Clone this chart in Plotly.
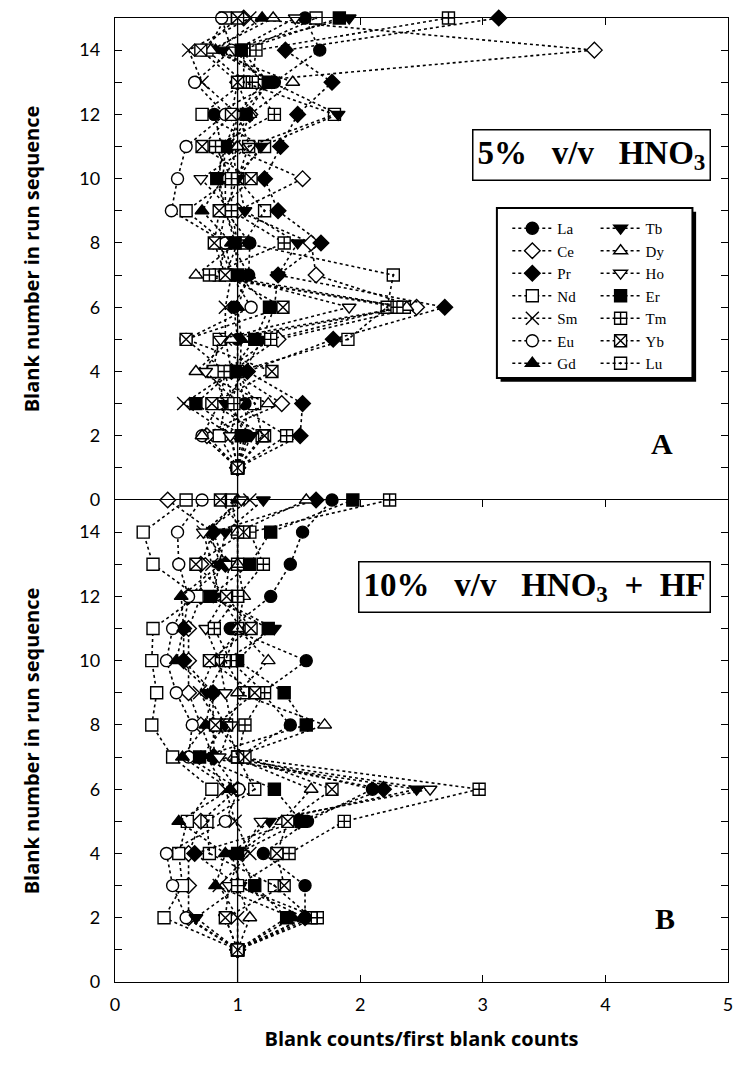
import plotly.graph_objects as go
from plotly.subplots import make_subplots

# Blank number in the run sequence (y values for every series)
blank_number = list(range(1, 16))

# ---- Panel A: 5% v/v HNO3 (blank counts / first blank counts, blanks 1..15)
a_La = [1.00, 1.08, 1.06, 1.00, 1.00, 0.97, 1.09, 1.10, 0.90, 0.85, 0.87, 0.81, 1.30, 1.67, 1.55]
a_Ce = [1.00, 0.75, 1.36, 0.95, 1.33, 2.46, 1.64, 1.60, 1.00, 1.53, 0.93, 1.10, 1.00, 3.91, 1.05]
a_Pr = [1.00, 1.51, 1.53, 1.08, 1.78, 2.69, 1.33, 1.68, 1.33, 1.22, 1.35, 1.49, 1.77, 1.39, 3.13]
a_Nd = [1.00, 0.85, 0.90, 0.80, 0.85, 2.36, 0.85, 0.90, 0.58, 0.95, 1.22, 0.71, 1.05, 0.75, 0.90]
a_Sm = [1.00, 0.95, 0.56, 0.95, 0.90, 0.90, 0.95, 0.85, 0.90, 1.00, 0.95, 1.00, 0.71, 0.60, 1.10]
a_Eu = [1.00, 0.71, 0.85, 0.90, 0.58, 1.11, 0.95, 0.90, 0.46, 0.51, 0.58, 0.90, 0.65, 0.95, 0.87]
a_Gd = [1.00, 1.06, 0.95, 1.02, 1.03, 1.00, 1.09, 0.95, 0.71, 0.88, 0.90, 1.00, 1.28, 0.82, 1.20]
a_Tb = [1.00, 1.11, 0.90, 1.05, 1.20, 1.30, 1.33, 1.49, 1.06, 1.00, 1.19, 1.82, 1.28, 0.88, 1.91]
a_Dy = [1.00, 0.71, 1.25, 0.66, 0.95, 2.38, 0.66, 1.00, 0.90, 0.90, 1.00, 1.10, 1.45, 0.78, 1.29]
a_Ho = [1.00, 0.94, 1.00, 0.74, 0.86, 1.91, 0.90, 1.00, 0.95, 0.70, 1.10, 1.00, 1.20, 0.98, 1.47]
a_Er = [1.00, 1.03, 0.66, 0.95, 1.14, 1.26, 1.00, 0.98, 0.90, 0.83, 0.90, 1.07, 1.25, 1.03, 1.83]
a_Tm = [1.00, 1.40, 0.97, 0.89, 1.27, 2.30, 0.77, 1.38, 0.95, 0.95, 0.82, 1.30, 1.12, 1.15, 2.72]
a_Yb = [1.00, 1.22, 0.79, 1.28, 0.58, 1.37, 0.90, 0.81, 0.85, 1.11, 0.71, 0.95, 1.00, 0.70, 1.00]
a_Lu = [1.00, 1.20, 1.14, 1.00, 1.90, 2.22, 2.27, 1.05, 1.22, 1.00, 1.09, 1.79, 1.05, 1.05, 1.64]

# ---- Panel B: 10% v/v HNO3 + HF
b_La = [1.00, 1.55, 1.55, 1.21, 1.57, 2.10, 1.00, 1.43, 1.20, 1.56, 0.94, 1.27, 1.43, 1.53, 1.77]
b_Ce = [1.00, 0.60, 0.60, 0.60, 0.70, 1.00, 0.80, 0.70, 0.60, 0.60, 0.60, 0.70, 0.70, 0.80, 0.43]
b_Pr = [1.00, 1.55, 1.00, 0.65, 1.50, 2.19, 0.81, 0.80, 0.80, 0.56, 0.56, 0.60, 0.90, 0.80, 1.64]
b_Nd = [1.00, 0.40, 0.55, 0.52, 0.59, 0.79, 0.47, 0.30, 0.34, 0.30, 0.31, 0.67, 0.31, 0.23, 0.58]
b_Sm = [1.00, 1.00, 0.85, 1.10, 0.98, 0.90, 0.75, 0.85, 0.69, 0.80, 1.03, 0.85, 0.79, 0.72, 1.10]
b_Eu = [1.00, 0.58, 0.47, 0.42, 0.90, 1.01, 0.60, 0.63, 0.50, 0.42, 0.47, 0.60, 0.52, 0.51, 0.71]
b_Gd = [1.00, 1.45, 0.82, 0.90, 0.52, 0.94, 0.55, 0.74, 0.79, 0.50, 0.56, 0.54, 0.86, 0.77, 1.00]
b_Tb = [1.00, 0.66, 1.02, 0.95, 1.26, 2.46, 0.70, 0.90, 0.75, 0.90, 1.30, 0.80, 0.85, 0.90, 1.21]
b_Dy = [1.00, 1.10, 1.00, 1.00, 1.36, 1.60, 0.97, 1.71, 1.00, 1.25, 1.00, 1.05, 1.00, 1.00, 1.56]
b_Ho = [1.00, 0.90, 0.93, 1.03, 1.19, 2.57, 0.85, 0.95, 0.90, 0.85, 0.74, 0.90, 0.93, 0.72, 1.03]
b_Er = [1.00, 1.40, 1.14, 1.00, 1.52, 1.30, 0.69, 1.56, 1.38, 1.00, 1.25, 0.78, 1.10, 1.27, 1.94]
b_Tm = [1.00, 1.65, 1.00, 1.42, 1.87, 2.97, 1.00, 1.06, 1.22, 0.94, 0.81, 1.00, 1.21, 1.10, 2.24]
b_Yb = [1.00, 0.90, 1.38, 1.32, 1.41, 1.77, 1.06, 0.82, 1.14, 0.77, 1.11, 0.91, 0.66, 1.05, 0.86]
b_Lu = [1.00, 1.60, 1.30, 0.77, 0.75, 1.14, 1.00, 0.91, 1.05, 0.90, 1.00, 1.00, 1.00, 1.00, 0.95]

elements = ["La", "Ce", "Pr", "Nd", "Sm", "Eu", "Gd", "Tb", "Dy", "Ho", "Er", "Tm", "Yb", "Lu"]
panel_a = [a_La, a_Ce, a_Pr, a_Nd, a_Sm, a_Eu, a_Gd, a_Tb, a_Dy, a_Ho, a_Er, a_Tm, a_Yb, a_Lu]
panel_b = [b_La, b_Ce, b_Pr, b_Nd, b_Sm, b_Eu, b_Gd, b_Tb, b_Dy, b_Ho, b_Er, b_Tm, b_Yb, b_Lu]

y_ticks = list(range(0, 15, 2))
x_ticks = list(range(0, 6))

# marker style per element: (symbol, fill colour)
BLACK, WHITE = "black", "white"
styles = {
    "La": ("circle", BLACK),
    "Ce": ("diamond", WHITE),
    "Pr": ("diamond", BLACK),
    "Nd": ("square", WHITE),
    "Sm": ("x-thin-open", BLACK),
    "Eu": ("circle", WHITE),
    "Gd": ("triangle-up", BLACK),
    "Tb": ("triangle-down", BLACK),
    "Dy": ("triangle-up", WHITE),
    "Ho": ("triangle-down", WHITE),
    "Er": ("square", BLACK),
    "Tm": ("square-cross", WHITE),
    "Yb": ("square-x", WHITE),
    "Lu": ("square-open-dot", BLACK),
}
# legend in two columns: La..Gd left, Tb..Lu right
left_col = elements[:7]

fig = make_subplots(rows=2, cols=1, shared_xaxes=True, vertical_spacing=0)

for row, panel in ((1, panel_a), (2, panel_b)):
    for name, xs in zip(elements, panel):
        sym, fill = styles[name]
        size = 13 if sym.startswith("x") else 12
        fig.add_trace(
            go.Scatter(
                x=xs, y=blank_number, mode="lines+markers", name=name,
                showlegend=(row == 1),
                legend="legend" if name in left_col else "legend2",
                line=dict(color="black", width=1.6, dash="dot"),
                marker=dict(symbol=sym, size=size, color=fill,
                            line=dict(color="black", width=1.4)),
                cliponaxis=False,
            ),
            row=row, col=1,
        )

# reference line at ratio = 1 through both panels
fig.add_vline(x=1, line=dict(color="black", width=1.3), row="all", col=1)

tick_font = dict(family="Lato, Open Sans, sans-serif", size=18, color="black")
title_font = dict(family="Liberation Sans Narrow, Open Sans, sans-serif", size=20,
                  color="black", weight="bold")

axis_common = dict(showline=True, linecolor="black", linewidth=1.3,
                   ticks="inside", ticklen=7, tickcolor="black", tickwidth=1.2,
                   showgrid=False, zeroline=False, tickfont=tick_font)

for r in (1, 2):
    fig.update_yaxes(range=[0, 15], tickvals=y_ticks, mirror="ticks",
                     minor=dict(dtick=1, ticks="inside", ticklen=7, tickcolor="black"),
                     title=dict(text="Blank number in run sequence", font=title_font, standoff=34),
                     ticklabelstandoff=10, row=r, col=1, **axis_common)

# upper panel: x axis drawn along its top edge; its lower edge is the
# mirrored top line of the lower panel
fig.update_xaxes(range=[0, 5], tickvals=x_ticks, side="top", showticklabels=False,
                 mirror=False, row=1, col=1, **axis_common)
fig.update_xaxes(range=[0, 5], tickvals=x_ticks, mirror="ticks",
                 title=dict(text="Blank counts/first blank counts", font=title_font, standoff=18),
                 ticklabelstandoff=6, row=2, col=1, **axis_common)

serif = "Liberation Serif, Times New Roman, serif"
box_font = dict(family=serif, size=33, color="black")
fig.add_annotation(x=0.778, y=0.858, xref="paper", yref="paper",
                   xanchor="center", yanchor="middle",
                   text="<b>5%   v/v   HNO<sub>3</sub></b>", showarrow=False,
                   font=box_font, bordercolor="black", borderwidth=1.5, borderpad=4,
                   bgcolor="white")
fig.add_annotation(x=0.685, y=0.410, xref="paper", yref="paper",
                   xanchor="center", yanchor="middle",
                   text="<b>10%   v/v   HNO<sub>3</sub>  +  HF</b>", showarrow=False,
                   font=box_font, bordercolor="black", borderwidth=1.5, borderpad=4,
                   bgcolor="white")
fig.add_annotation(x=0.893, y=0.559, xref="paper", yref="paper", text="<b>A</b>",
                   xanchor="center", yanchor="middle",
                   showarrow=False, font=dict(family=serif, size=30, color="black"))
fig.add_annotation(x=0.898, y=0.066, xref="paper", yref="paper", text="<b>B</b>",
                   xanchor="center", yanchor="middle",
                   showarrow=False, font=dict(family=serif, size=30, color="black"))

# legend frame with drop shadow
fig.add_shape(type="rect", xref="paper", yref="paper",
              x0=0.629, x1=0.948, y0=0.6226, y1=0.799,
              fillcolor="black", line=dict(width=0), layer="above")
fig.add_shape(type="rect", xref="paper", yref="paper",
              x0=0.623, x1=0.942, y0=0.6266, y1=0.803,
              fillcolor="white", line=dict(color="black", width=2), layer="above")

legend_font = dict(family=serif, size=15, color="black")
common_legend = dict(orientation="v", yanchor="top", xanchor="left", y=0.7988,
                     bgcolor="rgba(0,0,0,0)", borderwidth=0, font=legend_font,
                     itemwidth=40, itemclick=False, itemdoubleclick=False,
                     tracegroupgap=0)

fig.update_layout(
    width=741, height=1066,
    margin=dict(l=115, r=8, t=18, b=84),
    paper_bgcolor="white", plot_bgcolor="white",
    showlegend=True,
    legend=dict(x=0.640, **common_legend),
    legend2=dict(x=0.784, **common_legend),
)

fig.write_html("out.html")
